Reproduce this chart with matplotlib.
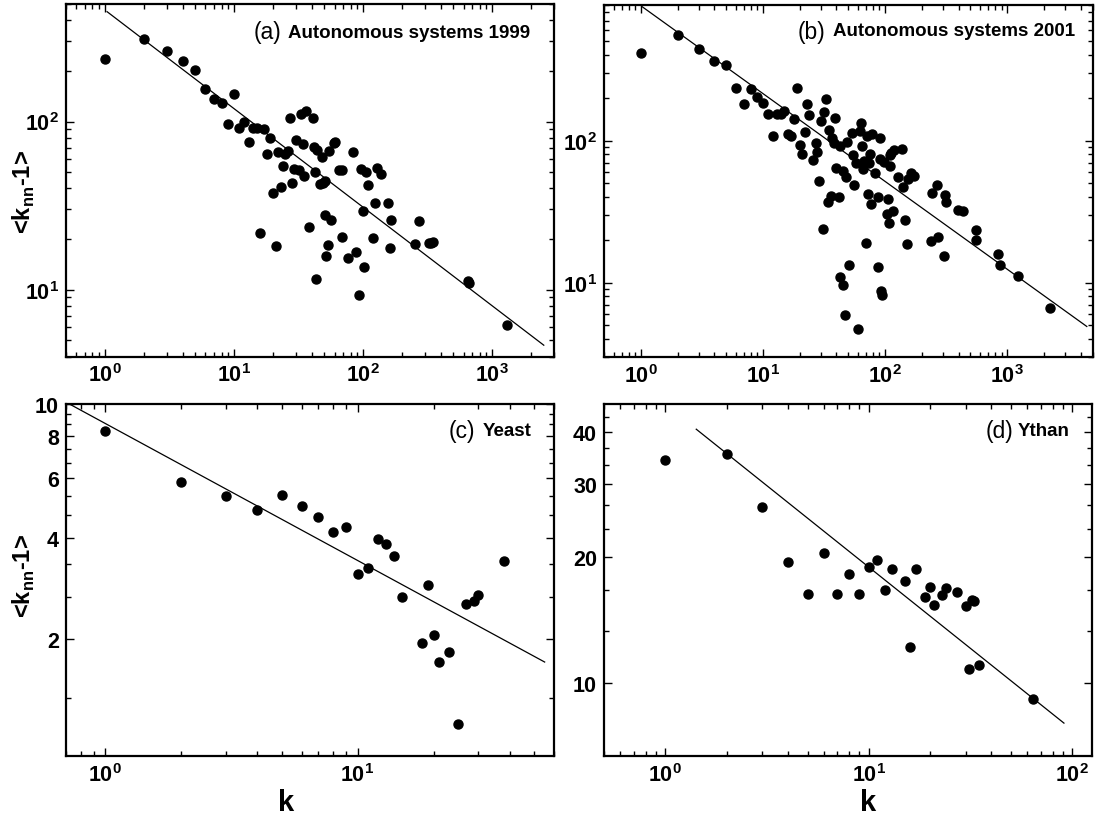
import numpy as np
import matplotlib
matplotlib.use("Agg")
import matplotlib.pyplot as plt
from matplotlib.ticker import LogLocator, FixedLocator, FuncFormatter, NullFormatter

plt.rcParams['font.family'] = 'Liberation Sans'
plt.rcParams['mathtext.fontset'] = 'custom'
plt.rcParams['mathtext.rm'] = 'Liberation Sans'
plt.rcParams['mathtext.bf'] = 'Liberation Sans:bold'

# (a) Autonomous systems 1999
ka = [1, 2, 3, 4, 5, 6, 7, 8, 9, 10, 11, 12, 13, 14, 15, 16, 17, 18, 19, 20,
      21, 22, 23, 24, 25, 26, 27, 28, 29, 30, 32, 33, 34, 35, 36, 38, 40.6, 41.6, 42.7, 43.3,
      44, 46, 47.8, 48.4, 50.3, 50.6, 51.5, 53.2, 53.9, 56.5, 59.7, 60.5, 65.3, 68.6, 69, 76,
      84, 88, 92, 96, 99, 102, 104.5, 108, 118.6, 123, 128, 138.5, 155, 161, 164, 250, 268,
      322, 334, 350, 645, 658, 1300]
ya = [236, 308, 261, 230, 202, 157, 137, 128, 97, 146, 91, 99.5, 76, 91, 92, 21.7, 90, 64, 80, 37.3,
      18.1, 65.8, 40.9, 54, 64, 67, 105.6, 43, 51.9, 77.4, 51.2, 110.6, 73, 47.3, 115, 23.5, 105.6, 71,
      50.2, 11.5, 68, 42.6, 61.7, 43, 44, 27.9, 15.8, 18.3, 67, 25.9, 74.3, 76, 51.2, 51.2, 20.5, 15.4,
      65.8, 16.8, 9.3, 51.9, 29.5, 13.7, 49.8, 41.7, 20.3, 32.6, 52.8, 48.4, 32.6, 17.8, 26.1, 18.8,
      25.6, 18.9, 18.9, 19.1, 11.3, 11.0, 6.17]
fit_ka = [1.04, 2500]
fit_ya = [450, 4.67]

# (b) Autonomous systems 2001
kb = [1, 2, 3, 4, 5, 6, 7, 8, 9, 10, 11, 12, 13, 14, 15, 16, 17, 18, 19, 20, 21, 22, 23, 24,
      25.8, 27, 27.8, 29, 29.9, 30.8, 31.8, 32.7, 33.9, 35, 36, 37, 38, 38.6, 39.8, 41.9, 43, 43.2,
      45, 45.6, 46.6, 47.7, 48.9, 50.9, 53.5, 54.9, 56, 57.6, 60, 61.9, 63, 64.3, 65.6, 67.8, 69.3,
      70.9, 72.8, 73.9, 75.2, 76.5, 78, 82.2, 88.3, 88.3, 90.3, 90.8, 92.1, 95.3, 97.3, 104, 105.2,
      108.6, 109.2, 110.7, 113, 117, 118, 127, 137, 140, 146, 152.5, 153.5, 162.6, 172, 238, 241,
      267, 272, 303, 311, 313, 397, 433, 553, 556, 841, 881, 1218, 2246]
yb = [413, 557, 441, 361, 342, 234, 182, 229, 203, 184, 153, 107, 153, 154, 161, 111, 107, 142,
      233, 92.7, 80, 115, 180, 152, 73, 96, 83.6, 51.6, 138, 23.9, 159, 195, 37, 118, 40.9, 104, 96,
      145, 63.8, 39.8, 91.7, 11.0, 61.4, 9.6, 5.97, 55.5, 98, 13.3, 113, 78.8, 48.4, 69.5, 4.69, 117,
      134, 91.2, 63.1, 71.8, 19, 107, 42, 69, 80.6, 35.7, 111, 58.7, 40.3, 12.8, 105, 74.3, 8.7, 8.2,
      70.3, 30.4, 39, 26.2, 78.8, 65.9, 82.2, 32.1, 85.4, 55.1, 86.9, 46.9, 27.5, 18.7, 54, 59.2, 56,
      19.5, 42.5, 48.6, 21.1, 15.5, 41.1, 37.1, 32.7, 31.9, 23.4, 20, 15.8, 13.3, 11.1, 6.59]
fit_kb = [1.02, 4490]
fit_yb = [879, 4.92]

# (c) Yeast
kc = [1, 2, 3, 4, 5, 6, 7, 8, 9, 10, 11, 12, 13, 14, 15, 18, 19, 20, 21, 23, 25, 27, 29, 30, 38]
yc = [8.28, 5.85, 5.30, 4.83, 5.35, 4.98, 4.61, 4.15, 4.31, 3.11, 3.25, 3.97, 3.84, 3.52, 2.66,
      1.95, 2.89, 2.05, 1.71, 1.83, 1.12, 2.55, 2.6, 2.70, 3.41]
fit_kc = [0.716, 55.1]
fit_yc = [10.0, 1.71]

# (d) Ythan
kd = [1, 2, 3, 4, 5, 6, 7, 8, 9, 10, 11, 12, 13, 15, 16, 17, 19, 20, 21, 23, 24, 27, 30, 31, 32, 33, 35, 64]
yd = [34.3, 35.4, 26.4, 19.5, 16.3, 20.5, 16.3, 18.2, 16.3, 19.0, 19.7, 16.7, 18.8, 17.5, 12.2,
      18.8, 16.1, 17.0, 15.4, 16.2, 16.9, 16.5, 15.3, 10.8, 15.8, 15.7, 11.0, 9.16]
fit_kd = [1.42, 91]
fit_yd = [40.6, 8.0]

W, H = 1095, 820
fig = plt.figure(figsize=(W / 100, H / 100), dpi=100)


def px_axes(l, t, r, b):
    return fig.add_axes([l / W, 1 - b / H, (r - l) / W, (b - t) / H])


def pow10(v, pos):
    return r'$\mathbf{10^{%d}}$' % int(round(np.log10(v)))


def style(ax, xlim, ylim, yticks=None, yminor=None):
    ax.set_xscale('log')
    ax.set_yscale('log')
    ax.set_xlim(*xlim)
    ax.set_ylim(*ylim)
    ax.xaxis.set_major_locator(LogLocator(base=10))
    ax.xaxis.set_minor_locator(LogLocator(base=10, subs=np.arange(2, 10)))
    ax.xaxis.set_major_formatter(FuncFormatter(pow10))
    ax.xaxis.set_minor_formatter(NullFormatter())
    if yticks is None:
        ax.yaxis.set_major_locator(LogLocator(base=10))
        ax.yaxis.set_minor_locator(LogLocator(base=10, subs=np.arange(2, 10)))
        ax.yaxis.set_major_formatter(FuncFormatter(pow10))
    else:
        ax.yaxis.set_major_locator(FixedLocator(yticks))
        ax.yaxis.set_minor_locator(FixedLocator(yminor))
        ax.yaxis.set_major_formatter(FuncFormatter(lambda v, p: '%d' % v))
    ax.yaxis.set_minor_formatter(NullFormatter())
    ax.tick_params(which='both', direction='in', top=True, right=True, width=1.0)
    ax.tick_params(which='major', length=6, labelsize=15.5, pad=5)
    ax.tick_params(which='minor', length=3.5)
    for lab in ax.get_yticklabels() + ax.get_xticklabels():
        lab.set_fontweight('bold')
    for s in ax.spines.values():
        s.set_linewidth(1.6)


def draw(ax, k, y, fk, fy):
    ax.plot(fk, fy, color='black', lw=0.9)
    ax.plot(k, y, 'o', color='black', ms=6.5, mec='black')


ax_a = px_axes(66, 5, 554, 357.5)
draw(ax_a, ka, ya, fit_ka, fit_ya)
style(ax_a, (0.5, 3000), (4, 500))

ax_b = px_axes(604, 6, 1092.5, 358)
draw(ax_b, kb, yb, fit_kb, fit_yb)
style(ax_b, (0.5, 5000), (3, 900))

ax_c = px_axes(66, 404.5, 554, 757)
draw(ax_c, kc, yc, fit_kc, fit_yc)
style(ax_c, (0.7, 60), (0.9, 10), yticks=[2, 4, 6, 8, 10],
      yminor=[1.333, 2.667, 3.333, 4.667, 5.333, 6.667, 7.333, 8.667, 9.333])

ax_d = px_axes(604, 405, 1092, 757)
draw(ax_d, kd, yd, fit_kd, fit_yd)
style(ax_d, (0.5, 125), (6.67, 46.67), yticks=[10, 20, 30, 40],
      yminor=[13.333, 16.667, 23.333, 26.667, 33.333, 36.667, 43.333])

# panel captions, positioned in pixels
captions = [("(a)", "Autonomous systems 1999", 254, 288, 33),
            ("(b)", "Autonomous systems 2001", 798, 833, 32),
            ("(c)", "Yeast", 449, 483, 432),
            ("(d)", "Ythan", 986, 1018, 432)]
for tag, name, xt, xn, yy in captions:
    fig.text(xt / W, 1 - yy / H, tag, fontsize=16.5, ha='left', va='center')
    fig.text(xn / W, 1 - yy / H, name, fontsize=13.5, fontweight='bold', ha='left', va='center')

ylab = r'<k$_{\mathbf{nn}}$-1>'
fig.text(24 / W, 1 - 192 / H, ylab, rotation=90, fontsize=17, fontweight='bold', ha='center', va='center')
fig.text(24 / W, 1 - 576 / H, ylab, rotation=90, fontsize=17, fontweight='bold', ha='center', va='center')
fig.text(286 / W, 1 - 803 / H, 'k', fontsize=21, fontweight='bold', ha='center', va='center')
fig.text(868 / W, 1 - 803 / H, 'k', fontsize=21, fontweight='bold', ha='center', va='center')

fig.savefig('out.png', dpi=100)
